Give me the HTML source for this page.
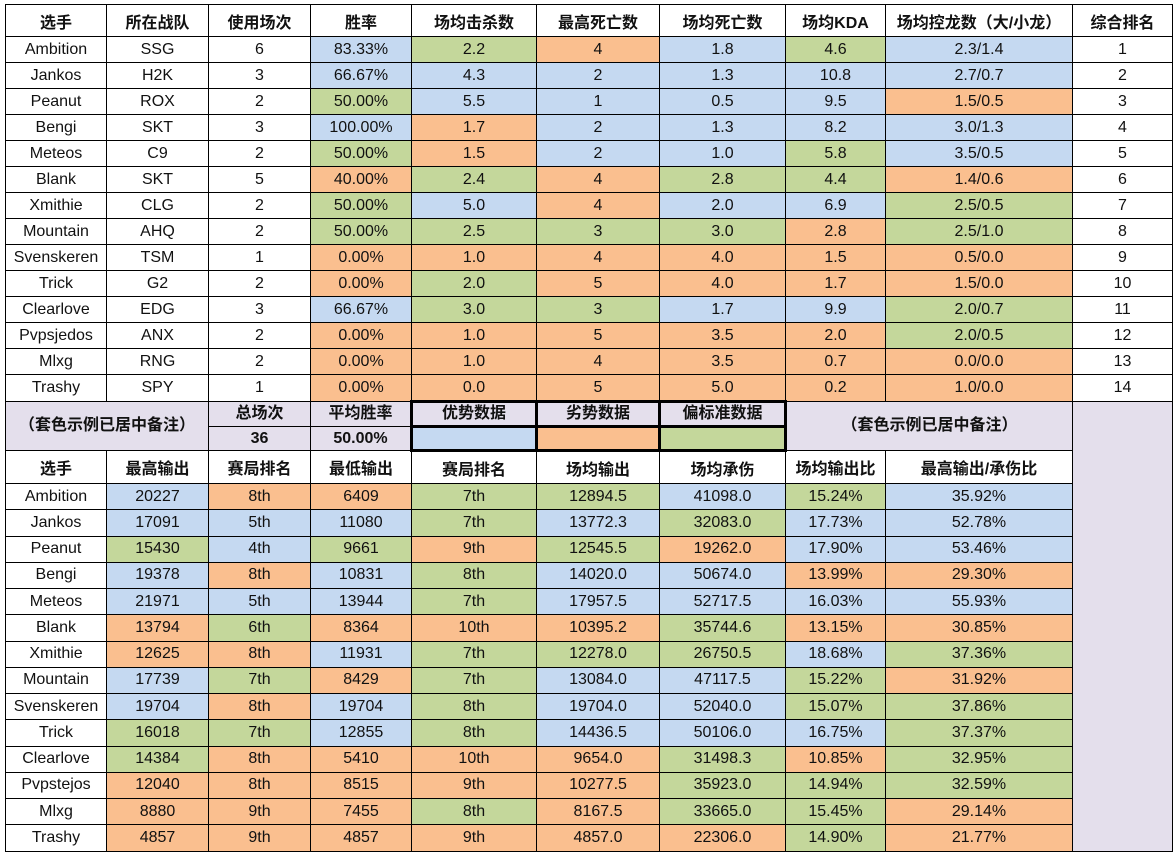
<!DOCTYPE html>
<html><head><meta charset="utf-8"><style>
body{margin:0;background:#fff;width:1176px;height:852px;overflow:hidden}
table{position:absolute;left:5px;top:4px;border-collapse:collapse;table-layout:fixed;font-family:"Liberation Sans","Noto Sans CJK SC",sans-serif;font-size:16px;color:#111}
td{border:1px solid #000;text-align:center;padding:0;height:25px;white-space:nowrap;overflow:hidden}
tr.h td{height:31px;font-weight:bold}
tr.m td{height:22px;line-height:20px}
tr.m2 td{height:21px;line-height:20px}
tr.d td{height:25.25px}
.b{background:#c5d9f1}.o{background:#fabf8f}.g{background:#c4d79b}.l{background:#e4dfec}
.k{border:3px solid #000}
.bd{font-weight:bold}
</style></head><body>
<table>
<colgroup><col style="width:101px"><col style="width:102px"><col style="width:102px"><col style="width:101px"><col style="width:125px"><col style="width:123px"><col style="width:126px"><col style="width:100px"><col style="width:187px"><col style="width:100px"></colgroup>
<tr class="h"><td>选手</td><td>所在战队</td><td>使用场次</td><td>胜率</td><td>场均击杀数</td><td>最高死亡数</td><td>场均死亡数</td><td>场均KDA</td><td>场均控龙数（大/小龙）</td><td>综合排名</td></tr>
<tr><td>Ambition</td><td>SSG</td><td>6</td><td class="b">83.33%</td><td class="g">2.2</td><td class="o">4</td><td class="b">1.8</td><td class="g">4.6</td><td class="b">2.3/1.4</td><td>1</td></tr>
<tr><td>Jankos</td><td>H2K</td><td>3</td><td class="b">66.67%</td><td class="b">4.3</td><td class="b">2</td><td class="b">1.3</td><td class="b">10.8</td><td class="b">2.7/0.7</td><td>2</td></tr>
<tr><td>Peanut</td><td>ROX</td><td>2</td><td class="g">50.00%</td><td class="b">5.5</td><td class="b">1</td><td class="b">0.5</td><td class="b">9.5</td><td class="o">1.5/0.5</td><td>3</td></tr>
<tr><td>Bengi</td><td>SKT</td><td>3</td><td class="b">100.00%</td><td class="o">1.7</td><td class="b">2</td><td class="b">1.3</td><td class="b">8.2</td><td class="b">3.0/1.3</td><td>4</td></tr>
<tr><td>Meteos</td><td>C9</td><td>2</td><td class="g">50.00%</td><td class="o">1.5</td><td class="b">2</td><td class="b">1.0</td><td class="g">5.8</td><td class="b">3.5/0.5</td><td>5</td></tr>
<tr><td>Blank</td><td>SKT</td><td>5</td><td class="o">40.00%</td><td class="g">2.4</td><td class="o">4</td><td class="g">2.8</td><td class="g">4.4</td><td class="o">1.4/0.6</td><td>6</td></tr>
<tr><td>Xmithie</td><td>CLG</td><td>2</td><td class="g">50.00%</td><td class="b">5.0</td><td class="o">4</td><td class="b">2.0</td><td class="b">6.9</td><td class="g">2.5/0.5</td><td>7</td></tr>
<tr><td>Mountain</td><td>AHQ</td><td>2</td><td class="g">50.00%</td><td class="g">2.5</td><td class="g">3</td><td class="g">3.0</td><td class="o">2.8</td><td class="g">2.5/1.0</td><td>8</td></tr>
<tr><td>Svenskeren</td><td>TSM</td><td>1</td><td class="o">0.00%</td><td class="o">1.0</td><td class="o">4</td><td class="o">4.0</td><td class="o">1.5</td><td class="o">0.5/0.0</td><td>9</td></tr>
<tr><td>Trick</td><td>G2</td><td>2</td><td class="o">0.00%</td><td class="g">2.0</td><td class="o">5</td><td class="o">4.0</td><td class="o">1.7</td><td class="o">1.5/0.0</td><td>10</td></tr>
<tr><td>Clearlove</td><td>EDG</td><td>3</td><td class="b">66.67%</td><td class="g">3.0</td><td class="g">3</td><td class="b">1.7</td><td class="b">9.9</td><td class="g">2.0/0.7</td><td>11</td></tr>
<tr><td>Pvpsjedos</td><td>ANX</td><td>2</td><td class="o">0.00%</td><td class="o">1.0</td><td class="o">5</td><td class="o">3.5</td><td class="o">2.0</td><td class="g">2.0/0.5</td><td>12</td></tr>
<tr><td>Mlxg</td><td>RNG</td><td>2</td><td class="o">0.00%</td><td class="o">1.0</td><td class="o">4</td><td class="o">3.5</td><td class="o">0.7</td><td class="o">0.0/0.0</td><td>13</td></tr>
<tr><td>Trashy</td><td>SPY</td><td>1</td><td class="o">0.00%</td><td class="o">0.0</td><td class="o">5</td><td class="o">5.0</td><td class="o">0.2</td><td class="o">1.0/0.0</td><td>14</td></tr>
<tr class="m"><td colspan="2" rowspan="2" class="l bd">（套色示例已居中备注）</td><td class="l bd">总场次</td><td class="l bd">平均胜率</td><td class="l bd k">优势数据</td><td class="l bd k">劣势数据</td><td class="l bd k">偏标准数据</td><td colspan="2" rowspan="2" class="l bd">（套色示例已居中备注）</td><td rowspan="18" class="l"></td></tr>
<tr class="m2"><td class="l bd">36</td><td class="l bd">50.00%</td><td class="b k"></td><td class="o k"></td><td class="g k"></td></tr>
<tr class="h"><td>选手</td><td>最高输出</td><td>赛局排名</td><td>最低输出</td><td>赛局排名</td><td>场均输出</td><td>场均承伤</td><td>场均输出比</td><td>最高输出/承伤比</td></tr>
<tr class="d"><td>Ambition</td><td class="b">20227</td><td class="o">8th</td><td class="o">6409</td><td class="g">7th</td><td class="g">12894.5</td><td class="b">41098.0</td><td class="g">15.24%</td><td class="b">35.92%</td></tr>
<tr class="d"><td>Jankos</td><td class="b">17091</td><td class="b">5th</td><td class="b">11080</td><td class="g">7th</td><td class="b">13772.3</td><td class="g">32083.0</td><td class="b">17.73%</td><td class="b">52.78%</td></tr>
<tr class="d"><td>Peanut</td><td class="g">15430</td><td class="b">4th</td><td class="g">9661</td><td class="o">9th</td><td class="g">12545.5</td><td class="o">19262.0</td><td class="b">17.90%</td><td class="b">53.46%</td></tr>
<tr class="d"><td>Bengi</td><td class="b">19378</td><td class="o">8th</td><td class="b">10831</td><td class="g">8th</td><td class="b">14020.0</td><td class="b">50674.0</td><td class="o">13.99%</td><td class="o">29.30%</td></tr>
<tr class="d"><td>Meteos</td><td class="b">21971</td><td class="b">5th</td><td class="b">13944</td><td class="g">7th</td><td class="b">17957.5</td><td class="b">52717.5</td><td class="b">16.03%</td><td class="b">55.93%</td></tr>
<tr class="d"><td>Blank</td><td class="o">13794</td><td class="g">6th</td><td class="o">8364</td><td class="o">10th</td><td class="o">10395.2</td><td class="g">35744.6</td><td class="o">13.15%</td><td class="o">30.85%</td></tr>
<tr class="d"><td>Xmithie</td><td class="o">12625</td><td class="o">8th</td><td class="b">11931</td><td class="g">7th</td><td class="g">12278.0</td><td class="g">26750.5</td><td class="b">18.68%</td><td class="g">37.36%</td></tr>
<tr class="d"><td>Mountain</td><td class="b">17739</td><td class="g">7th</td><td class="o">8429</td><td class="g">7th</td><td class="b">13084.0</td><td class="b">47117.5</td><td class="g">15.22%</td><td class="o">31.92%</td></tr>
<tr class="d"><td>Svenskeren</td><td class="b">19704</td><td class="o">8th</td><td class="b">19704</td><td class="g">8th</td><td class="b">19704.0</td><td class="b">52040.0</td><td class="g">15.07%</td><td class="g">37.86%</td></tr>
<tr class="d"><td>Trick</td><td class="g">16018</td><td class="g">7th</td><td class="b">12855</td><td class="g">8th</td><td class="b">14436.5</td><td class="b">50106.0</td><td class="b">16.75%</td><td class="g">37.37%</td></tr>
<tr class="d"><td>Clearlove</td><td class="g">14384</td><td class="o">8th</td><td class="o">5410</td><td class="o">10th</td><td class="o">9654.0</td><td class="g">31498.3</td><td class="o">10.85%</td><td class="g">32.95%</td></tr>
<tr class="d"><td>Pvpstejos</td><td class="o">12040</td><td class="o">8th</td><td class="o">8515</td><td class="o">9th</td><td class="o">10277.5</td><td class="g">35923.0</td><td class="g">14.94%</td><td class="g">32.59%</td></tr>
<tr class="d"><td>Mlxg</td><td class="o">8880</td><td class="o">9th</td><td class="o">7455</td><td class="g">8th</td><td class="o">8167.5</td><td class="g">33665.0</td><td class="g">15.45%</td><td class="o">29.14%</td></tr>
<tr class="d"><td>Trashy</td><td class="o">4857</td><td class="o">9th</td><td class="o">4857</td><td class="o">9th</td><td class="o">4857.0</td><td class="o">22306.0</td><td class="g">14.90%</td><td class="o">21.77%</td></tr>
</table>
</body></html>
